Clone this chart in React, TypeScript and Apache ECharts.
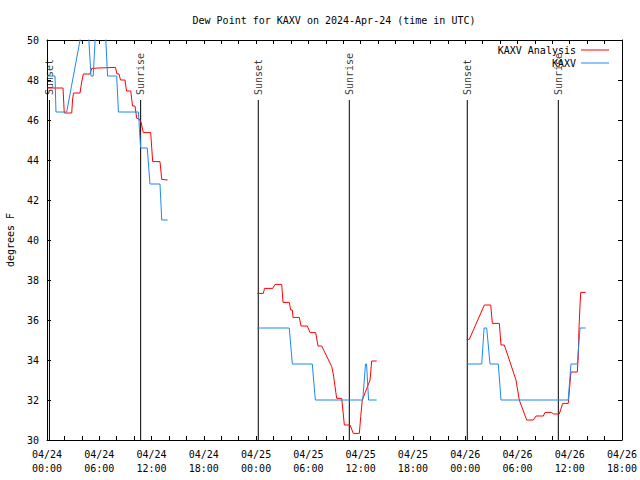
import React, { useEffect, useRef } from "react";
import * as echarts from "echarts";

// Hours since 2024-04-24 00:00 UTC; null marks a gap in the record
const analysisHours = [
  0, 1.84, 1.98, 2.84, 2.93, 3.04, 3.79, 3.98, 4.17, 4.94, 5.13, 5.89, 7.86, 8.03, 8.26, 8.44, 8.95, 9.13, 9.61, 9.82, 10.1, 10.3, 10.56, 10.79, 11.05, 11.9, 12.13, 12.97, 13.17, 13.85,
  19,
  24.14, 24.83, 24.97, 25.91, 26.17, 26.94, 27.09, 27.81, 27.97, 28.16, 28.24, 28.96, 29.16, 29.88, 30.19, 30.84, 31.11, 31.53, 32.68, 32.86, 33.25, 33.83, 34.13, 34.78, 35.16, 35.85, 36.01, 36.19, 37.08, 37.27, 37.84,
  43,
  48.17, 48.47, 50.2, 50.93, 51.12, 51.92, 52.11, 52.49, 53.83, 54.21, 55.06, 55.82, 56.13, 56.97, 57.16, 57.93, 58.11, 58.8, 59.19, 59.83, 60.03, 60.14, 60.87, 60.98, 61.06, 61.18, 61.26, 61.83,
];
const analysisValues: (number | null)[] = [
  47.6, 47.6, 46.35, 46.35, 47.0, 47.35, 47.35, 47.9, 48.3, 48.3, 48.58, 48.6, 48.63, 48.3, 48.3, 48.0, 48.0, 47.45, 47.45, 46.7, 46.7, 46.08, 46.05, 45.9, 45.37, 45.37, 43.92, 43.92, 43.03, 43.0,
  null,
  37.33, 37.33, 37.58, 37.58, 37.78, 37.78, 36.88, 36.88, 36.5, 36.5, 36.13, 36.13, 35.7, 35.7, 35.37, 35.37, 34.7, 34.7, 33.67, 33.3, 32.08, 32.08, 30.75, 30.75, 30.33, 30.33, 31.17, 32.0, 33.0, 33.95, 33.95,
  null,
  35.03, 35.03, 36.75, 36.75, 35.83, 35.83, 34.75, 34.75, 33.0, 32.0, 31.0, 31.0, 31.2, 31.2, 31.38, 31.38, 31.3, 31.3, 31.83, 31.83, 32.83, 33.4, 33.4, 34.17, 35.53, 36.75, 37.38, 37.38,
];

const obsHours = [
  0, 0.92, 1.03, 2.26, 4.56, 5.05, 5.3, 5.75, 6.55, 6.95, 8.0, 8.2, 10.5, 10.6, 10.75, 11.51, 11.82, 12.97, 13.17, 13.85,
  19,
  24.14, 27.81, 28.16, 30.45, 30.8, 36.24, 36.56, 36.68, 36.91, 37.84,
  43,
  48.17, 49.9, 50.17, 50.47, 50.85, 51.8, 52.11, 59.83, 60.14, 60.87, 61.18, 61.83,
];
const obsValues: (number | null)[] = [
  48.2, 48.2, 46.4, 46.4, 51.8, 48.2, 48.2, 51.8, 51.8, 48.2, 48.2, 46.4, 46.4, 45.6, 44.6, 44.6, 42.8, 42.8, 41.0, 41.0,
  null,
  35.6, 35.6, 33.8, 33.8, 32.0, 32.0, 33.8, 33.8, 32.0, 32.0,
  null,
  33.8, 33.8, 35.6, 35.6, 33.8, 33.8, 32.0, 32.0, 33.8, 33.8, 35.6, 35.6,
];

const sunsetHours = [0.28, 24.25, 48.24];
const sunriseHours = [10.75, 34.7, 58.69];
const sunLineTop = 47;
const yMin = 30;
const yMax = 50;
const xMaxHours = 66;
const startDay = 24;

const FONT = "DejaVu Sans Mono";

function pairs(h: number[], v: (number | null)[]) {
  return h.map((x, i) => [x, v[i] === null ? "-" : v[i]]);
}

function xLabel(v: number) {
  const d = startDay + Math.floor(v / 24);
  const hh = Math.round(v % 24);
  return `04/${d}\n${String(hh).padStart(2, "0")}:00`;
}

export default function App() {
  const ref = useRef<HTMLDivElement>(null);
  useEffect(() => {
    if (!ref.current) return;
    const chart = echarts.init(ref.current, undefined, { renderer: "svg" });
    const sunLineData: any[] = [];
    [...sunsetHours, ...sunriseHours].forEach((h) => {
      sunLineData.push([h, yMin], [h, sunLineTop], [h, "-"]);
    });
    const sunLabels = [
      ...sunsetHours.map((h) => ({ value: [h, sunLineTop], name: "Sunset" })),
      ...sunriseHours.map((h) => ({ value: [h, sunLineTop], name: "Sunrise" })),
    ];
    const axisCommon = {
      axisLine: { show: true, onZero: false, lineStyle: { color: "#000", width: 1 } },
      splitLine: { show: false },
    };
    const txt = { fontFamily: FONT, fontSize: 10, color: "#000" };
    const legendCommon = {
      right: 31,
      align: "right",
      orient: "vertical",
      itemWidth: 28,
      itemHeight: 1,
      icon: "rect",
      padding: 0,
      textStyle: { ...txt },
    };
    chart.setOption({
      animation: false,
      backgroundColor: "#fff",
      textStyle: { fontFamily: FONT },
      title: {
        text: "Dew Point for KAXV on 2024-Apr-24 (time in UTC)",
        left: 334,
        top: 15,
        textAlign: "center",
        padding: 0,
        textStyle: { ...txt, fontWeight: "normal" },
      },
      legend: [
        { ...legendCommon, top: 45, data: ["KAXV Analysis"] },
        { ...legendCommon, top: 58, data: ["KAXV"] },
      ],
      grid: { left: 47, right: 18, top: 40, bottom: 40, containLabel: false, outerBoundsMode: "none" },
      xAxis: [
        {
          type: "value",
          min: 0,
          max: xMaxHours,
          interval: 6,
          position: "bottom",
          ...axisCommon,
          axisTick: { show: true, inside: true, length: 4, lineStyle: { color: "#000" } },
          minorTick: { show: true, splitNumber: 3, length: 4, lineStyle: { color: "#000" } },
          axisLabel: {
            ...txt,
            formatter: xLabel,
            margin: 7,
            lineHeight: 14,
            showMinLabel: true,
            showMaxLabel: true,
            hideOverlap: false,
          },
        },
        {
          type: "value",
          min: 0,
          max: xMaxHours,
          interval: 6,
          position: "top",
          ...axisCommon,
          axisTick: { show: true, inside: true, length: 4, lineStyle: { color: "#000" } },
          minorTick: { show: true, splitNumber: 3, length: 4, lineStyle: { color: "#000" } },
          axisLabel: { show: false },
        },
      ],
      yAxis: [
        {
          type: "value",
          min: yMin,
          max: yMax,
          interval: 2,
          position: "left",
          name: "degrees F",
          nameLocation: "middle",
          nameGap: 32,
          nameRotate: 90,
          nameTextStyle: { ...txt },
          ...axisCommon,
          axisTick: { show: true, inside: true, length: 4, lineStyle: { color: "#000" } },
          axisLabel: { ...txt, margin: 8 },
        },
        {
          type: "value",
          min: yMin,
          max: yMax,
          interval: 2,
          position: "right",
          ...axisCommon,
          axisTick: { show: true, inside: true, length: 4, lineStyle: { color: "#000" } },
          axisLabel: { show: false },
        },
      ],
      series: [
        {
          name: "sun",
          type: "line",
          data: sunLineData,
          symbol: "none",
          silent: true,
          lineStyle: { color: "#000", width: 1 },
          connectNulls: false,
        },
        {
          name: "sunLabels",
          type: "scatter",
          data: sunLabels,
          symbolSize: 0,
          silent: true,
          itemStyle: { color: "rgba(0,0,0,0)" },
          label: {
            show: true,
            formatter: "{b}",
            position: "top",
            distance: 5,
            rotate: 90,
            align: "left",
            verticalAlign: "middle",
            ...txt,
          },
        },
        {
          name: "KAXV Analysis",
          type: "line",
          data: pairs(analysisHours, analysisValues),
          symbol: "none",
          connectNulls: false,
          clip: true,
          lineStyle: { color: "#ff0000", width: 1 },
          itemStyle: { color: "#ff0000" },
        },
        {
          name: "KAXV",
          type: "line",
          data: pairs(obsHours, obsValues),
          symbol: "none",
          connectNulls: false,
          clip: true,
          lineStyle: { color: "#1e88f0", width: 1 },
          itemStyle: { color: "#1e88f0" },
        },
      ],
    });
    return () => chart.dispose();
  }, []);
  return (
    <div
      ref={ref}
      style={{ position: "fixed", left: 0, top: 0, width: 640, height: 480, background: "#fff" }}
    />
  );
}
